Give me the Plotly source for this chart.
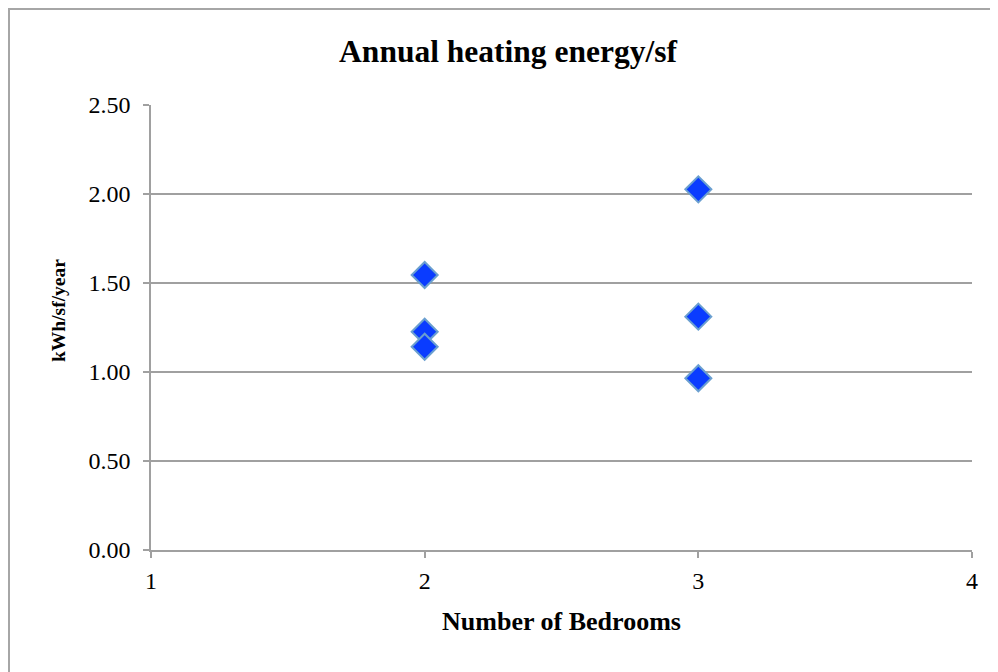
import plotly.graph_objects as go

bedrooms = [2, 2, 2, 3, 3, 3]
heating_kwh_sf = [1.545, 1.226, 1.142, 2.026, 1.311, 0.965]

x_ticks = [1, 2, 3, 4]
y_ticks = [0.0, 0.5, 1.0, 1.5, 2.0, 2.5]

FONT = "Liberation Serif"
OFF = 8  # page body margin

fig = go.Figure()
fig.add_trace(go.Scatter(
    x=bedrooms, y=heating_kwh_sf, mode="markers",
    marker=dict(symbol="diamond", size=20, color="#0a3cff",
                line=dict(color="#6a9fd0", width=2)),
    showlegend=False,
))

W, H = 998, 672
L = 151 - OFF
T = 105 - OFF
R = W - (972 - OFF)
B = H - (550 - OFF)
pw = W - L - R
ph = H - T - B

fig.update_layout(
    width=W, height=H,
    margin=dict(l=L, r=R, t=T, b=B),
    paper_bgcolor="white", plot_bgcolor="white",
    font=dict(family=FONT, color="black"),
    title=dict(text="<b>Annual heating energy/sf</b>", font=dict(size=31.5, family=FONT),
               x=(508 - OFF) / W, xanchor="center", y=1 - (51 - OFF) / H, yanchor="middle"),
    xaxis=dict(range=[1, 4], tickvals=x_ticks, ticktext=[str(v) for v in x_ticks],
               showgrid=False, zeroline=False, showline=True, linecolor="#a0a0a0", linewidth=1.5,
               ticks="outside", ticklen=6, tickcolor="#a0a0a0", tickwidth=1.5,
               tickfont=dict(size=24, family=FONT), ticklabelstandoff=2,
               title=dict(text="<b>Number of Bedrooms</b>", font=dict(size=26, family=FONT), standoff=19)),
    yaxis=dict(range=[0, 2.5], tickvals=y_ticks, ticktext=[f"{v:.2f}" for v in y_ticks],
               showgrid=True, gridcolor="#a0a0a0", gridwidth=1.5, zeroline=False,
               showline=True, linecolor="#a0a0a0", linewidth=1.5,
               ticks="outside", ticklen=6, tickcolor="#a0a0a0", tickwidth=1.5,
               tickfont=dict(size=24, family=FONT), ticklabelstandoff=8),
)

fig.add_annotation(text="<b>kWh/sf/year</b>", textangle=-90, showarrow=False,
                   xref="paper", yref="paper",
                   x=((58 - OFF) - L) / pw, y=((550 - OFF) - (311 - OFF)) / ph,
                   xanchor="center", yanchor="middle",
                   font=dict(size=19.5, family=FONT, color="black"))

fig.add_shape(type="rect", xref="paper", yref="paper",
              x0=(1 - L) / pw, x1=(W + 20 - L) / pw,
              y0=-(B + 20) / ph, y1=1 + (T - 1) / ph,
              line=dict(color="#a6a6a6", width=2), fillcolor="rgba(0,0,0,0)", layer="below")

fig.write_html("out.html")
